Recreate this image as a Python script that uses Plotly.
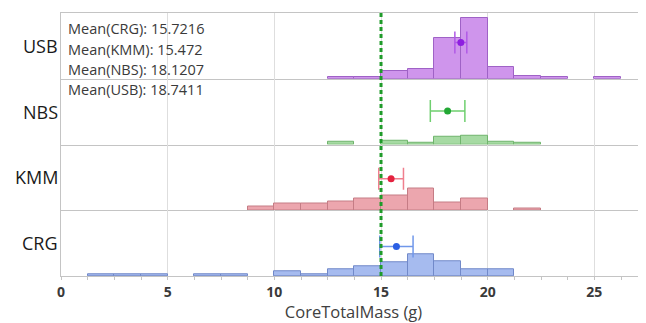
import plotly.graph_objects as go
from plotly.subplots import make_subplots

# Dados do gráfico
groups = ["USB", "NBS", "KMM", "CRG"]
bin_left = [1.25, 2.5, 3.75, 5.0, 6.25, 7.5, 8.75, 10.0, 11.25, 12.5,
            13.75, 15.0, 16.25, 17.5, 18.75, 20.0, 21.25, 22.5, 23.75, 25.0]
bin_width = 1.25
counts_usb = [0, 0, 0, 0, 0, 0, 0, 0, 0, 1, 1, 6, 8, 32, 48, 9, 2, 1, 0, 1]
counts_nbs = [0, 0, 0, 0, 0, 0, 0, 0, 0, 2, 0, 3, 1, 6, 7, 2, 1, 0, 0, 0]
counts_kmm = [0, 0, 0, 0, 0, 0, 3, 5, 5, 7, 9, 12, 17, 6, 9, 0, 1, 0, 0, 0]
counts_crg = [1, 1, 1, 0, 1, 1, 0, 4, 1, 5, 8, 11, 17, 12, 5, 5, 0, 0, 0, 0]
means = {"CRG": 15.7216, "KMM": 15.472, "NBS": 18.1207, "USB": 18.7411}
ci_half = {"USB": 0.28, "NBS": 0.81, "KMM": 0.58, "CRG": 0.78}
x_ticks = [0, 5, 10, 15, 20, 25]
target = 15

counts = {"USB": counts_usb, "NBS": counts_nbs, "KMM": counts_kmm, "CRG": counts_crg}

# Estilos por grupo: preenchimento, borda, ponto da média, barra de erro, altura relativa
styles = {
    "USB": ("#cf95ec", "#9f62c6", "#8e1ee0", "#b15ae6", 0.55),
    "NBS": ("#a6daa3", "#6fb46c", "#22a834", "#6fcf6f", 0.51),
    "KMM": ("#eca6ae", "#c57c85", "#e4223f", "#f07f8e", 0.48),
    "CRG": ("#a6bbef", "#7189c9", "#2b5fe4", "#7097ea", 0.45),
}

Y_MAX = 52
X_MAX = 27.42

# A página tem margem de 8px no body; compensa no tamanho da figura
PAGE_PAD = 8
FIG_W, FIG_H = 646 - PAGE_PAD, 323 - PAGE_PAD
M_L, M_T, M_B = 61 - PAGE_PAD, 13 - PAGE_PAD, 47
PLOT_H = FIG_H - M_T - M_B


def create_figure() -> go.Figure:
    """
    Cria o gráfico de histogramas empilhados com médias.
    """
    fig = make_subplots(rows=4, cols=1, shared_xaxes=True, vertical_spacing=0)

    for i, g in enumerate(groups, start=1):
        fill, edge, mcol, ecol, level = styles[g]
        centers = [b + bin_width / 2 for b in bin_left]
        vals = [c if c > 0 else None for c in counts[g]]
        fig.add_trace(go.Bar(
            x=centers, y=vals, width=bin_width,
            marker=dict(color=fill, line=dict(color=edge, width=1)),
            showlegend=False, hoverinfo="skip"
        ), row=i, col=1)

        # Média com intervalo
        fig.add_trace(go.Scatter(
            x=[means[g]], y=[level * Y_MAX], mode="markers",
            marker=dict(color=mcol, size=7),
            error_x=dict(type="data", array=[ci_half[g]], color=ecol,
                         thickness=1.5, width=11),
            showlegend=False, hoverinfo="skip"
        ), row=i, col=1)

        fig.update_yaxes(range=[0, Y_MAX], showgrid=False, showticklabels=False,
                         zeroline=False, showline=True, linecolor="#c4c4c4",
                         linewidth=1, ticks="", automargin=False, row=i, col=1)
        fig.update_xaxes(range=[0, X_MAX], showgrid=True, gridcolor="#dedede",
                         gridwidth=1, tickvals=x_ticks, zeroline=False,
                         showline=True, linecolor="#c4c4c4", linewidth=1,
                         automargin=False, row=i, col=1)

        # Rótulo do grupo
        fig.add_annotation(
            text=g, xref="paper", x=0, xanchor="right", xshift=-1,
            yref=f"y{'' if i == 1 else i} domain", y=0.5, yanchor="middle",
            showarrow=False, font=dict(size=18, color="#1a1a1a")
        )

    fig.update_xaxes(mirror=True, row=1, col=1)
    fig.update_xaxes(showticklabels=False, ticks="", row=1, col=1)
    fig.update_xaxes(showticklabels=False, ticks="", row=2, col=1)
    fig.update_xaxes(showticklabels=False, ticks="", row=3, col=1)
    fig.update_xaxes(
        ticks="outside", ticklen=3, tickcolor="#c4c4c4", ticklabelstandoff=0,
        minor=dict(dtick=bin_width, ticks="outside", ticklen=3,
                   tickcolor="#c4c4c4", showgrid=False),
        tickfont=dict(size=14, color="#3a3a3a", weight="bold"),
        title=dict(text="CoreTotalMass (g)", standoff=13,
                   font=dict(size=16.5, color="#404040")),
        row=4, col=1
    )

    # Linha de referência
    fig.add_shape(type="line", xref="x", yref="paper", x0=target, x1=target,
                  y0=0, y1=1, line=dict(color="#1f9b2a", width=3, dash="4px,3px"))

    # Textos das médias (posição em pixels a partir do topo da área do gráfico)
    text_rows = [("CRG", 16), ("KMM", 36.5), ("NBS", 56.5), ("USB", 77)]
    for g, ypix in text_rows:
        fig.add_annotation(
            text=f"Mean({g}): {means[g]}", xref="paper", x=0, xanchor="left",
            xshift=5, yref="paper", y=1 - ypix / PLOT_H, yanchor="middle",
            showarrow=False, font=dict(size=14.5, color="#3a3a3a")
        )

    fig.update_layout(
        width=FIG_W, height=FIG_H,
        margin=dict(l=M_L, r=0, t=M_T, b=M_B),
        plot_bgcolor="white", paper_bgcolor="white",
        font=dict(family="Open Sans, sans-serif"),
        bargap=0
    )
    return fig


fig = create_figure()
fig.write_html("out.html")
